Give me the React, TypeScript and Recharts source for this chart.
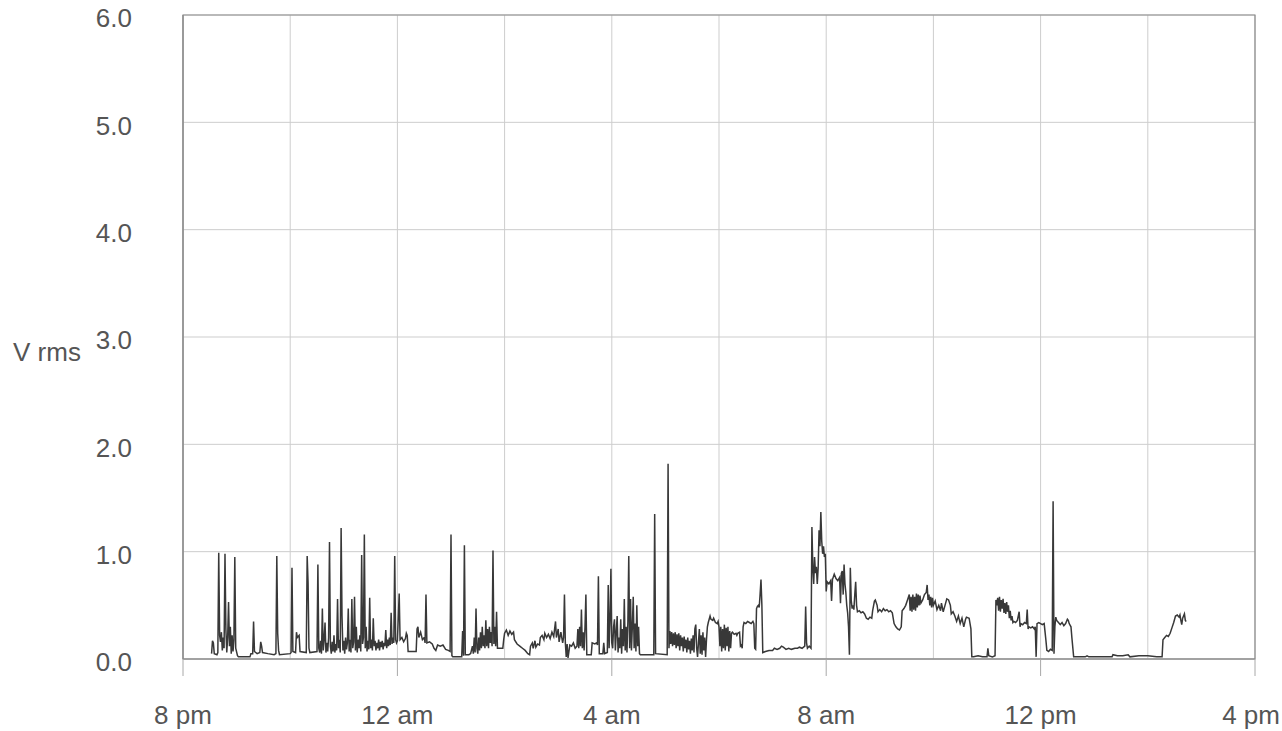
import { LineChart, Line, XAxis, YAxis, CartesianGrid, ReferenceArea } from "recharts";

// readings as [minutes after 8 pm, V rms]
const eveningReadings: [number, number][] = [
    [32, 0.05], [33, 0.17], [34, 0.15], [35, 0.05], [38, 0.04], [39, 0.06], [40, 0.99], [41, 0.22],
    [42, 0.16], [43, 0.25], [44, 0.08], [45, 0.2], [46, 0.1], [47, 0.98], [48, 0.28], [49, 0.06],
    [50, 0.2], [51, 0.53], [52, 0.12], [53, 0.3], [54, 0.05], [55, 0.22], [56, 0.07], [57, 0.18],
    [58, 0.95], [59, 0.1], [61, 0.03], [62, 0.02], [75, 0.02], [76, 0.05], [78, 0.05], [79, 0.35],
    [80, 0.07], [83, 0.05], [86, 0.06], [87, 0.16], [88, 0.12], [89, 0.06], [95, 0.05], [102, 0.04],
    [104, 0.05], [105, 0.96], [106, 0.24], [107, 0.08], [108, 0.04], [120, 0.05], [121, 0.06], [122, 0.85],
    [123, 0.07], [126, 0.06], [127, 0.25], [128, 0.2], [130, 0.22], [131, 0.07], [138, 0.06], [139, 0.96],
    [140, 0.71], [141, 0.1], [142, 0.06], [150, 0.07], [151, 0.88], [152, 0.1], [153, 0.06], [154, 0.17],
    [155, 0.05], [156, 0.47], [157, 0.08], [158, 0.18], [159, 0.34], [160, 0.06], [161, 0.15], [162, 0.07],
    [163, 0.2], [164, 1.09], [165, 0.12], [166, 0.05], [167, 0.16], [168, 0.07], [169, 0.22], [170, 0.06],
    [171, 0.14], [172, 0.08], [173, 0.56], [174, 0.1], [175, 0.18], [176, 0.06], [177, 1.22], [178, 0.4],
    [179, 0.08], [180, 0.17], [181, 0.05], [182, 0.2], [183, 0.09], [184, 0.15], [185, 0.47], [186, 0.07],
    [187, 0.18], [188, 0.06], [189, 0.56], [190, 0.1], [191, 0.16], [192, 0.58], [193, 0.08], [194, 0.3],
    [195, 0.06], [196, 0.18], [197, 0.1], [198, 0.22], [199, 0.07], [200, 0.97], [201, 0.14], [202, 0.2],
    [203, 1.16], [204, 0.1], [205, 0.3], [206, 0.07], [207, 0.17], [208, 0.09], [209, 0.57], [210, 0.1],
    [211, 0.18], [212, 0.08], [213, 0.38], [214, 0.12], [215, 0.17], [216, 0.08], [217, 0.15], [218, 0.1],
    [219, 0.18], [220, 0.08], [221, 0.16], [222, 0.11], [223, 0.17], [224, 0.09], [225, 0.15], [226, 0.12],
    [227, 0.27], [228, 0.1], [229, 0.18], [230, 0.12], [231, 0.2], [232, 0.13], [233, 0.43], [234, 0.14],
    [235, 0.2], [236, 0.15], [237, 0.96], [238, 0.18], [239, 0.15],
];

const nightReadings: [number, number][] = [
    [240, 0.17], [242, 0.61], [243, 0.18], [245, 0.2], [247, 0.16], [249, 0.19], [250, 0.24], [251, 0.22],
    [252, 0.07], [261, 0.07], [262, 0.28], [263, 0.3], [264, 0.2], [266, 0.25], [268, 0.18], [270, 0.2],
    [271, 0.15], [272, 0.6], [273, 0.15], [276, 0.16], [279, 0.14], [281, 0.1], [283, 0.08], [285, 0.13],
    [288, 0.12], [291, 0.13], [294, 0.09], [297, 0.08], [299, 0.07], [300, 1.16], [301, 0.03], [302, 0.02],
    [312, 0.02], [313, 0.26], [314, 0.03], [315, 1.06], [316, 0.04], [320, 0.04], [322, 0.05], [324, 0.12],
    [325, 0.05], [326, 0.2], [327, 0.06], [328, 0.47], [329, 0.1], [330, 0.05], [331, 0.2], [332, 0.08],
    [333, 0.25], [334, 0.1], [335, 0.3], [336, 0.12], [337, 0.22], [338, 0.1], [339, 0.36], [340, 0.12],
    [341, 0.28], [342, 0.1], [343, 0.3], [344, 0.15], [345, 0.25], [346, 0.12], [347, 1.01], [348, 0.14],
    [349, 0.3], [350, 0.12], [351, 0.44], [352, 0.1], [358, 0.1], [359, 0.18], [360, 0.24], [362, 0.27],
    [364, 0.22], [366, 0.26], [368, 0.23], [370, 0.25], [371, 0.18], [374, 0.14], [377, 0.12], [380, 0.1],
    [383, 0.08], [386, 0.05], [388, 0.04], [389, 0.12], [391, 0.15], [392, 0.1], [394, 0.17], [395, 0.11],
    [397, 0.14], [399, 0.13], [400, 0.2], [402, 0.22], [404, 0.18], [405, 0.24], [407, 0.2], [409, 0.23],
    [411, 0.19], [413, 0.25], [415, 0.21], [417, 0.35], [418, 0.2], [420, 0.28], [421, 0.16], [423, 0.25],
    [425, 0.15], [426, 0.2], [427, 0.6], [428, 0.15], [429, 0.02], [430, 0.14], [431, 0.01], [433, 0.13],
    [435, 0.12], [437, 0.15], [439, 0.1], [441, 0.12], [442, 0.28], [443, 0.1], [444, 0.3], [445, 0.12],
    [446, 0.46], [447, 0.1], [448, 0.25], [449, 0.08], [450, 0.3], [451, 0.6], [452, 0.04], [457, 0.04],
    [458, 0.15], [461, 0.14], [463, 0.15], [464, 0.13], [465, 0.77], [466, 0.05], [470, 0.05], [471, 0.15],
    [472, 0.05], [475, 0.06], [476, 0.69], [477, 0.1], [478, 0.35], [479, 0.84], [480, 0.15],
];

const dawnReadings: [number, number][] = [
    [481, 0.1], [482, 0.3], [483, 0.37], [484, 0.08], [485, 0.25], [486, 0.4], [487, 0.06], [488, 0.2],
    [489, 0.1], [490, 0.37], [491, 0.05], [492, 0.28], [493, 0.12], [494, 0.56], [495, 0.08], [496, 0.3],
    [497, 0.06], [498, 0.35], [499, 0.96], [500, 0.1], [501, 0.56], [502, 0.08], [503, 0.3], [504, 0.58],
    [505, 0.1], [506, 0.33], [507, 0.07], [508, 0.5], [509, 0.12], [510, 0.3], [511, 0.05], [512, 0.04],
    [527, 0.04], [528, 1.35], [529, 0.05], [542, 0.04], [543, 1.82], [544, 0.1], [545, 0.26], [546, 0.14],
    [547, 0.25], [548, 0.12], [549, 0.24], [550, 0.13], [551, 0.25], [552, 0.1], [553, 0.23], [554, 0.12],
    [555, 0.24], [556, 0.08], [557, 0.22], [558, 0.12], [559, 0.2], [560, 0.07], [561, 0.21], [562, 0.1],
    [563, 0.18], [564, 0.06], [565, 0.2], [566, 0.09], [567, 0.17], [568, 0.05], [569, 0.19], [570, 0.08],
    [571, 0.22], [572, 0.06], [573, 0.28], [574, 0.32], [575, 0.1], [576, 0.02], [577, 0.15], [578, 0.28],
    [579, 0.05], [580, 0.22], [581, 0.04], [582, 0.25], [583, 0.08], [584, 0.2], [585, 0.02], [586, 0.18],
    [587, 0.3], [588, 0.34], [589, 0.37], [590, 0.4], [591, 0.37], [593, 0.36], [594, 0.38], [596, 0.34],
    [598, 0.33], [599, 0.35], [600, 0.3], [601, 0.12], [602, 0.3], [603, 0.07], [604, 0.28], [605, 0.1],
    [606, 0.32], [607, 0.08], [608, 0.29], [609, 0.12], [610, 0.3], [611, 0.07], [612, 0.26], [613, 0.1],
    [614, 0.24], [615, 0.25], [617, 0.23], [619, 0.24], [620, 0.22], [621, 0.24], [623, 0.25], [624, 0.12],
    [625, 0.13], [626, 0.1], [627, 0.3], [628, 0.34], [630, 0.33], [632, 0.35], [634, 0.34], [636, 0.33],
    [638, 0.35], [639, 0.33], [640, 0.1], [641, 0.09], [642, 0.47], [643, 0.49], [644, 0.5], [645, 0.48],
    [646, 0.6], [647, 0.74], [648, 0.5], [649, 0.06], [652, 0.07], [656, 0.08], [660, 0.08], [662, 0.1],
    [665, 0.09], [668, 0.1], [670, 0.12], [672, 0.11], [675, 0.09], [678, 0.1], [681, 0.09], [685, 0.1],
    [688, 0.1], [690, 0.11], [693, 0.1], [696, 0.12], [697, 0.49], [698, 0.15], [699, 0.1], [701, 0.12],
    [702, 0.11], [703, 0.1], [704, 1.23], [705, 0.86], [706, 0.7], [707, 0.95], [708, 0.8], [709, 0.86],
    [710, 0.7], [711, 0.85], [712, 1.2], [713, 1.05], [714, 1.37], [715, 1.1], [716, 0.98], [717, 1.05],
    [718, 0.95], [719, 0.98],
];

const morningReadings: [number, number][] = [
    [720, 0.63], [721, 0.72], [723, 0.7], [725, 0.73], [726, 0.54], [727, 0.74], [729, 0.79], [731, 0.75],
    [733, 0.73], [735, 0.76], [736, 0.52], [737, 0.8], [738, 0.82], [739, 0.6], [740, 0.88], [741, 0.7],
    [742, 0.62], [743, 0.5], [744, 0.43], [745, 0.3], [746, 0.04], [747, 0.85], [748, 0.55], [749, 0.47],
    [750, 0.5], [751, 0.46], [752, 0.6], [753, 0.72], [754, 0.5], [755, 0.44], [757, 0.45], [759, 0.43],
    [761, 0.44], [763, 0.42], [765, 0.38], [767, 0.37], [769, 0.39], [771, 0.38], [772, 0.45], [774, 0.54],
    [775, 0.55], [777, 0.5], [778, 0.44], [780, 0.46], [782, 0.44], [784, 0.47], [786, 0.45], [788, 0.46],
    [790, 0.44], [792, 0.45], [794, 0.43], [796, 0.33], [798, 0.3], [800, 0.28], [802, 0.27], [804, 0.3],
    [805, 0.45], [807, 0.47], [809, 0.5], [811, 0.55], [813, 0.6], [814, 0.45], [815, 0.58], [816, 0.44],
    [817, 0.6], [818, 0.46], [819, 0.58], [820, 0.45], [821, 0.61], [822, 0.48], [823, 0.6], [824, 0.5],
    [825, 0.59], [826, 0.52], [828, 0.55], [830, 0.6], [832, 0.62], [833, 0.69], [834, 0.55], [835, 0.6],
    [836, 0.5], [837, 0.58], [838, 0.48], [839, 0.57], [840, 0.5], [842, 0.54], [844, 0.46], [846, 0.5],
    [848, 0.45], [849, 0.52], [851, 0.44], [853, 0.5], [855, 0.56], [857, 0.55], [859, 0.5], [860, 0.42],
    [862, 0.44], [864, 0.4], [866, 0.35], [868, 0.4], [870, 0.33], [872, 0.38], [874, 0.3], [876, 0.37],
    [877, 0.39], [880, 0.38], [882, 0.28], [883, 0.02], [885, 0.02], [890, 0.03], [895, 0.02], [900, 0.02],
    [901, 0.1], [902, 0.03], [906, 0.02], [909, 0.03], [910, 0.55], [911, 0.5], [912, 0.57], [913, 0.45],
    [914, 0.58], [915, 0.44], [916, 0.55], [917, 0.47], [918, 0.56], [919, 0.43], [920, 0.52], [921, 0.42],
    [922, 0.53], [923, 0.44], [924, 0.5], [925, 0.38], [926, 0.45], [927, 0.36], [928, 0.4], [929, 0.34],
    [930, 0.35], [932, 0.34], [934, 0.36], [936, 0.44], [937, 0.3], [938, 0.33], [940, 0.32], [942, 0.34],
    [944, 0.33], [945, 0.46], [946, 0.28], [947, 0.3], [949, 0.29], [951, 0.3], [953, 0.28], [954, 0.3],
    [955, 0.02], [956, 0.33], [958, 0.34], [960, 0.33],
];

const afternoonReadings: [number, number][] = [
    [962, 0.32], [964, 0.33], [965, 0.25], [966, 0.17], [967, 0.08], [969, 0.07], [971, 0.09], [973, 0.08],
    [974, 1.47], [975, 0.05], [976, 0.3], [977, 0.39], [978, 0.36], [980, 0.34], [982, 0.32], [984, 0.34],
    [986, 0.31], [988, 0.33], [990, 0.37], [991, 0.36], [992, 0.33], [994, 0.3], [995, 0.2], [997, 0.02],
    [1010, 0.02], [1012, 0.03], [1014, 0.02], [1040, 0.02], [1041, 0.04], [1046, 0.03], [1052, 0.03], [1058, 0.04],
    [1060, 0.02], [1070, 0.03], [1080, 0.03], [1090, 0.02], [1096, 0.02], [1097, 0.18], [1099, 0.2], [1101, 0.22],
    [1103, 0.21], [1105, 0.24], [1107, 0.29], [1109, 0.34], [1111, 0.4], [1113, 0.41], [1115, 0.39], [1116, 0.41],
    [1117, 0.36], [1118, 0.32], [1119, 0.38], [1120, 0.4], [1121, 0.42], [1122, 0.36], [1123, 0.35],
];

const hourTicks = [0, 4, 8, 12, 16, 20];
const hourLabels = ["8 pm", "12 am", "4 am", "8 am", "12 pm", "4 pm"];
const gridHours = [0, 2, 4, 6, 8, 10, 12, 14, 16, 18, 20];
const voltTicks = [0, 1, 2, 3, 4, 5, 6];

const FONT = "'Liberation Sans', Arial, sans-serif";
const TEXT_COLOR = "#555555";

// x tick: the last label is pulled in so it stays inside the page, like the original
function HourTick(props: any) {
    const { x, y, payload, index } = props;
    const last = index === hourTicks.length - 1;
    return (
        <text
            x={last ? x + 25 : x}
            y={y}
            dy="0.71em"
            textAnchor={last ? "end" : "middle"}
            fill={TEXT_COLOR}
            fontSize={26}
            fontFamily={FONT}
        >
            {hourLabels[hourTicks.indexOf(payload.value)]}
        </text>
    );
}

function App() {
    const data = [...eveningReadings, ...nightReadings, ...dawnReadings, ...morningReadings, ...afternoonReadings]
        .map(([minute, vrms]) => ({ hours: minute / 60, vrms }));

    return (
        <div style={{ position: "absolute", left: 0, top: 0, background: "#fff" }}>
            <LineChart width={1282} height={731} data={data} margin={{ top: 15, right: 27, bottom: 12, left: 0 }}>
                <CartesianGrid stroke="#cdcdcd" verticalValues={gridHours} horizontalValues={voltTicks} />
                <ReferenceArea x1={0} x2={20} y1={0} y2={6} fill="none" stroke="#8c8c8c" strokeWidth={1.2} />
                <XAxis
                    dataKey="hours"
                    type="number"
                    domain={[0, 20]}
                    ticks={hourTicks}
                    height={60}
                    tickSize={17}
                    tickMargin={30}
                    axisLine={{ stroke: "#8c8c8c", strokeWidth: 1.2 }}
                    tickLine={{ stroke: "#a8a8a8" }}
                    tick={<HourTick />}
                />
                <YAxis
                    type="number"
                    domain={[0, 6]}
                    ticks={voltTicks}
                    width={183}
                    tickFormatter={(v: number) => v.toFixed(1)}
                    tickSize={0}
                    tickMargin={51}
                    axisLine={{ stroke: "#8c8c8c", strokeWidth: 1.2 }}
                    tickLine={false}
                    tick={{ fill: TEXT_COLOR, fontSize: 26, fontFamily: FONT, dy: 3 }}
                    label={{
                        value: "V rms",
                        position: "insideLeft",
                        offset: 13,
                        dy: 15,
                        style: { fill: TEXT_COLOR, fontSize: 26, fontFamily: FONT, textAnchor: "start" },
                    }}
                />
                <Line
                    type="linear"
                    dataKey="vrms"
                    stroke="#383838"
                    strokeWidth={1.5}
                    dot={false}
                    isAnimationActive={false}
                />
            </LineChart>
        </div>
    );
}

export default App;
